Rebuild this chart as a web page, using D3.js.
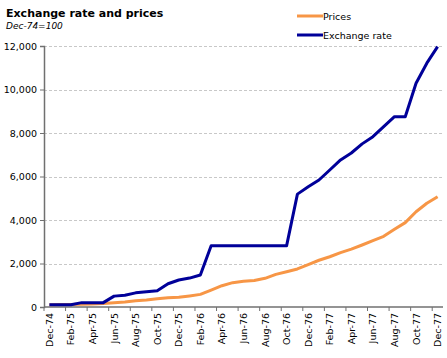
<!DOCTYPE html>
<html>
<head>
<meta charset="utf-8">
<script src="https://cdn.jsdelivr.net/npm/d3@7"></script>
<style>
  body { margin: 0; background: #fff; }
  text { font-family: "DejaVu Sans", Verdana, sans-serif; }
</style>
</head>
<body>
<div id="chart"></div>
<script>
// monthly, Dec-74 = 100
var months = ["Dec-74","Jan-75","Feb-75","Mar-75","Apr-75","May-75","Jun-75","Jul-75","Aug-75","Sep-75","Oct-75","Nov-75",
  "Dec-75","Jan-76","Feb-76","Mar-76","Apr-76","May-76","Jun-76","Jul-76","Aug-76","Sep-76","Oct-76","Nov-76",
  "Dec-76","Jan-77","Feb-77","Mar-77","Apr-77","May-77","Jun-77","Jul-77","Aug-77","Sep-77","Oct-77","Nov-77","Dec-77"];
var prices = [100,110,120,130,140,160,200,230,290,320,380,430,
  450,510,580,780,980,1120,1180,1220,1320,1500,1620,1750,
  1950,2150,2310,2500,2660,2850,3050,3250,3570,3880,4380,4770,5070];
var exchange = [100,100,100,200,200,200,500,540,650,700,750,1070,
  1240,1330,1470,2820,2820,2820,2820,2820,2820,2820,2820,5190,
  5530,5840,6300,6760,7080,7500,7830,8290,8750,8750,10290,11210,11970];
var yTicks = [0,2000,4000,6000,8000,10000,12000];

var W = 447, H = 358;
var m = {left: 44, right: 4, top: 46, bottom: 51};
var svg = d3.select("#chart").append("svg").attr("width", W).attr("height", H);

var x = d3.scaleBand().domain(months).range([m.left, W - m.right]);
var y = d3.scaleLinear().domain([0, 12000]).range([H - m.bottom, m.top]);

// gridlines
svg.append("g").selectAll("line").data(yTicks.slice(1)).enter().append("line")
  .attr("x1", m.left).attr("x2", W - m.right)
  .attr("y1", function(d){ return Math.round(y(d)) + 0.5; })
  .attr("y2", function(d){ return Math.round(y(d)) + 0.5; })
  .attr("stroke", "#c8c8c8").attr("stroke-dasharray", "3,2");

// y axis
var yAxis = svg.append("g").attr("transform", "translate(" + m.left + ",0)")
  .call(d3.axisLeft(y).tickValues(yTicks).tickSize(4).tickFormat(d3.format(",")));
yAxis.select(".domain").attr("stroke", "#707070").attr("stroke-width", 1.5);
yAxis.selectAll(".tick line").attr("stroke", "#707070");
yAxis.selectAll("text").attr("font-size", 9.5).attr("fill", "#000")
  .attr("font-family", "DejaVu Sans, sans-serif");

// x axis - labels every 2 months, ticks on category boundaries
var xg = svg.append("g").attr("transform", "translate(0," + (H - m.bottom) + ")");
xg.append("line").attr("x1", m.left).attr("x2", W - m.right)
  .attr("stroke", "#707070").attr("stroke-width", 1.5);
var labelled = months.filter(function(d, i){ return i % 2 === 0; });
xg.selectAll(".tk").data(labelled).enter().append("line")
  .attr("x1", function(d){ return x(d); }).attr("x2", function(d){ return x(d); })
  .attr("y1", 0).attr("y2", 4).attr("stroke", "#707070");
xg.selectAll(".lb").data(labelled).enter().append("text")
  .attr("transform", function(d){
    return "translate(" + (x(d) + x.bandwidth() / 2 + 3.5) + ",6) rotate(-90)";
  })
  .attr("text-anchor", "end").attr("font-size", 9.5).text(function(d){ return d; });

// lines
var line = function(vals) {
  return d3.line()
    .x(function(d, i){ return x(months[i]) + x.bandwidth() / 2; })
    .y(function(d){ return y(d); })(vals);
};
svg.append("path").attr("d", line(prices)).attr("fill", "none")
  .attr("stroke", "#f79646").attr("stroke-width", 3).attr("stroke-linejoin", "round");
svg.append("path").attr("d", line(exchange)).attr("fill", "none")
  .attr("stroke", "#000099").attr("stroke-width", 3).attr("stroke-linejoin", "round");

// title
svg.append("text").attr("x", 6).attr("y", 17).attr("font-size", 11)
  .attr("font-weight", "bold").text("Exchange rate and prices");
svg.append("text").attr("x", 6).attr("y", 29).attr("font-size", 9)
  .attr("font-style", "italic").text("Dec-74=100");

// legend
var legend = [["Prices", "#f79646"], ["Exchange rate", "#000099"]];
var lg = svg.append("g").selectAll("g").data(legend).enter().append("g")
  .attr("transform", function(d, i){ return "translate(297," + (16 + i * 19) + ")"; });
lg.append("line").attr("x1", 0).attr("x2", 26).attr("stroke", function(d){ return d[1]; })
  .attr("stroke-width", 3);
lg.append("text").attr("x", 26).attr("y", 3.5).attr("font-size", 9.5)
  .text(function(d){ return d[0]; });
</script>
</body>
</html>
